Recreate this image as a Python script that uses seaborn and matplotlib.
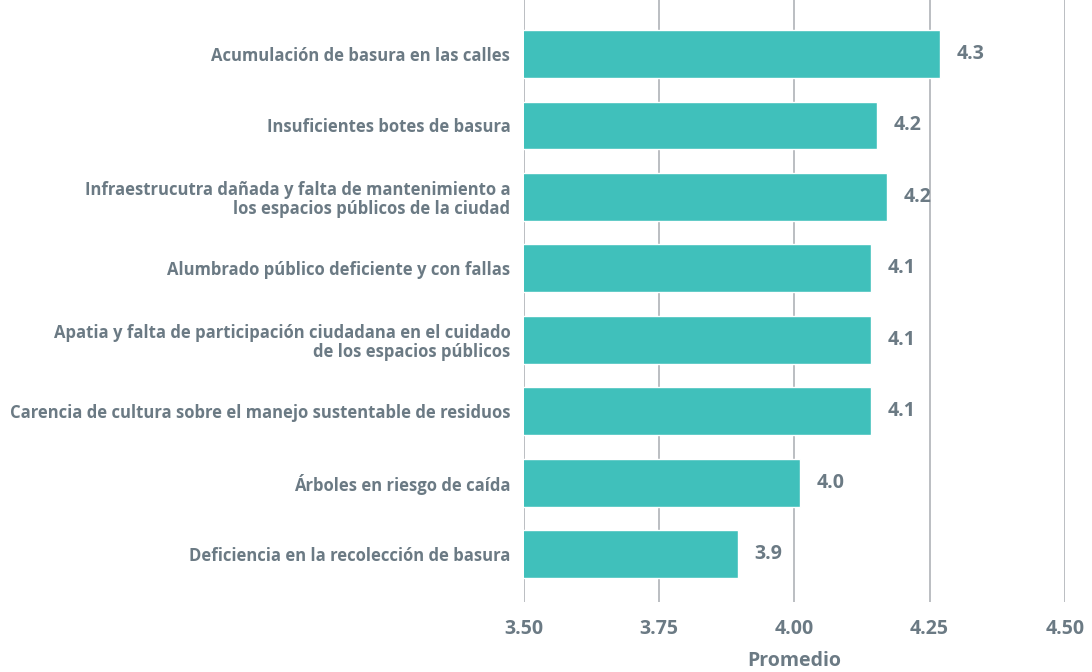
import matplotlib
matplotlib.use("Agg")
import matplotlib.pyplot as plt
import seaborn as sns
import pandas as pd

# datos
categorias = [
    "Acumulación de basura en las calles",
    "Insuficientes botes de basura",
    "Infraestrucutra dañada y falta de mantenimiento a\nlos espacios públicos de la ciudad",
    "Alumbrado público deficiente y con fallas",
    "Apatia y falta de participación ciudadana en el cuidado\nde los espacios públicos",
    "Carencia de cultura sobre el manejo sustentable de residuos",
    "Árboles en riesgo de caída",
    "Deficiencia en la recolección de basura",
]
promedios = [4.27, 4.153, 4.172, 4.142, 4.142, 4.142, 4.011, 3.895]
etiquetas = ["4.3", "4.2", "4.2", "4.1", "4.1", "4.1", "4.0", "3.9"]
ticks_x = [3.50, 3.75, 4.00, 4.25, 4.50]

df = pd.DataFrame({"categoria": categorias, "promedio": promedios})

sns.set_style("white")
plt.rcParams["font.family"] = ["Open Sans", "DejaVu Sans"]
gris = "#6b7a84"

fig = plt.figure(figsize=(10.92, 6.72), dpi=100)
ax = fig.add_axes([0.48, 0.104, 0.495, 0.896])

sns.barplot(data=df, x="promedio", y="categoria", color="#40c0bb",
            saturation=1, width=0.67, ax=ax, zorder=3)

ax.set_xlim(3.5, 4.5)
ax.set_ylim(7.67, -0.756)
ax.set_xticks(ticks_x)
ax.set_xticklabels([f"{t:.2f}" for t in ticks_x])
ax.grid(axis="x", color="#b5b9bd", linewidth=1.3, zorder=0)
ax.set_axisbelow(True)
sns.despine(ax=ax, left=True, bottom=True)
ax.tick_params(axis="both", length=0)
ax.tick_params(axis="x", pad=12, labelsize=14, labelcolor=gris)
ax.tick_params(axis="y", pad=10, labelsize=12, labelcolor=gris)
for lab in ax.get_xticklabels() + ax.get_yticklabels():
    lab.set_fontweight("bold")
for lab in ax.get_yticklabels():
    lab.set_multialignment("right")
    lab.set_linespacing(1.05)

ax.set_ylabel("")
ax.set_xlabel("Promedio", fontsize=14, fontweight="bold", color=gris, labelpad=9)

for i, (v, t) in enumerate(zip(promedios, etiquetas)):
    ax.annotate(t, (v, i), xytext=(12, 0), textcoords="offset points",
                va="center", ha="left", fontsize=14, fontweight="bold", color=gris)

fig.savefig("out.png", dpi=100)
